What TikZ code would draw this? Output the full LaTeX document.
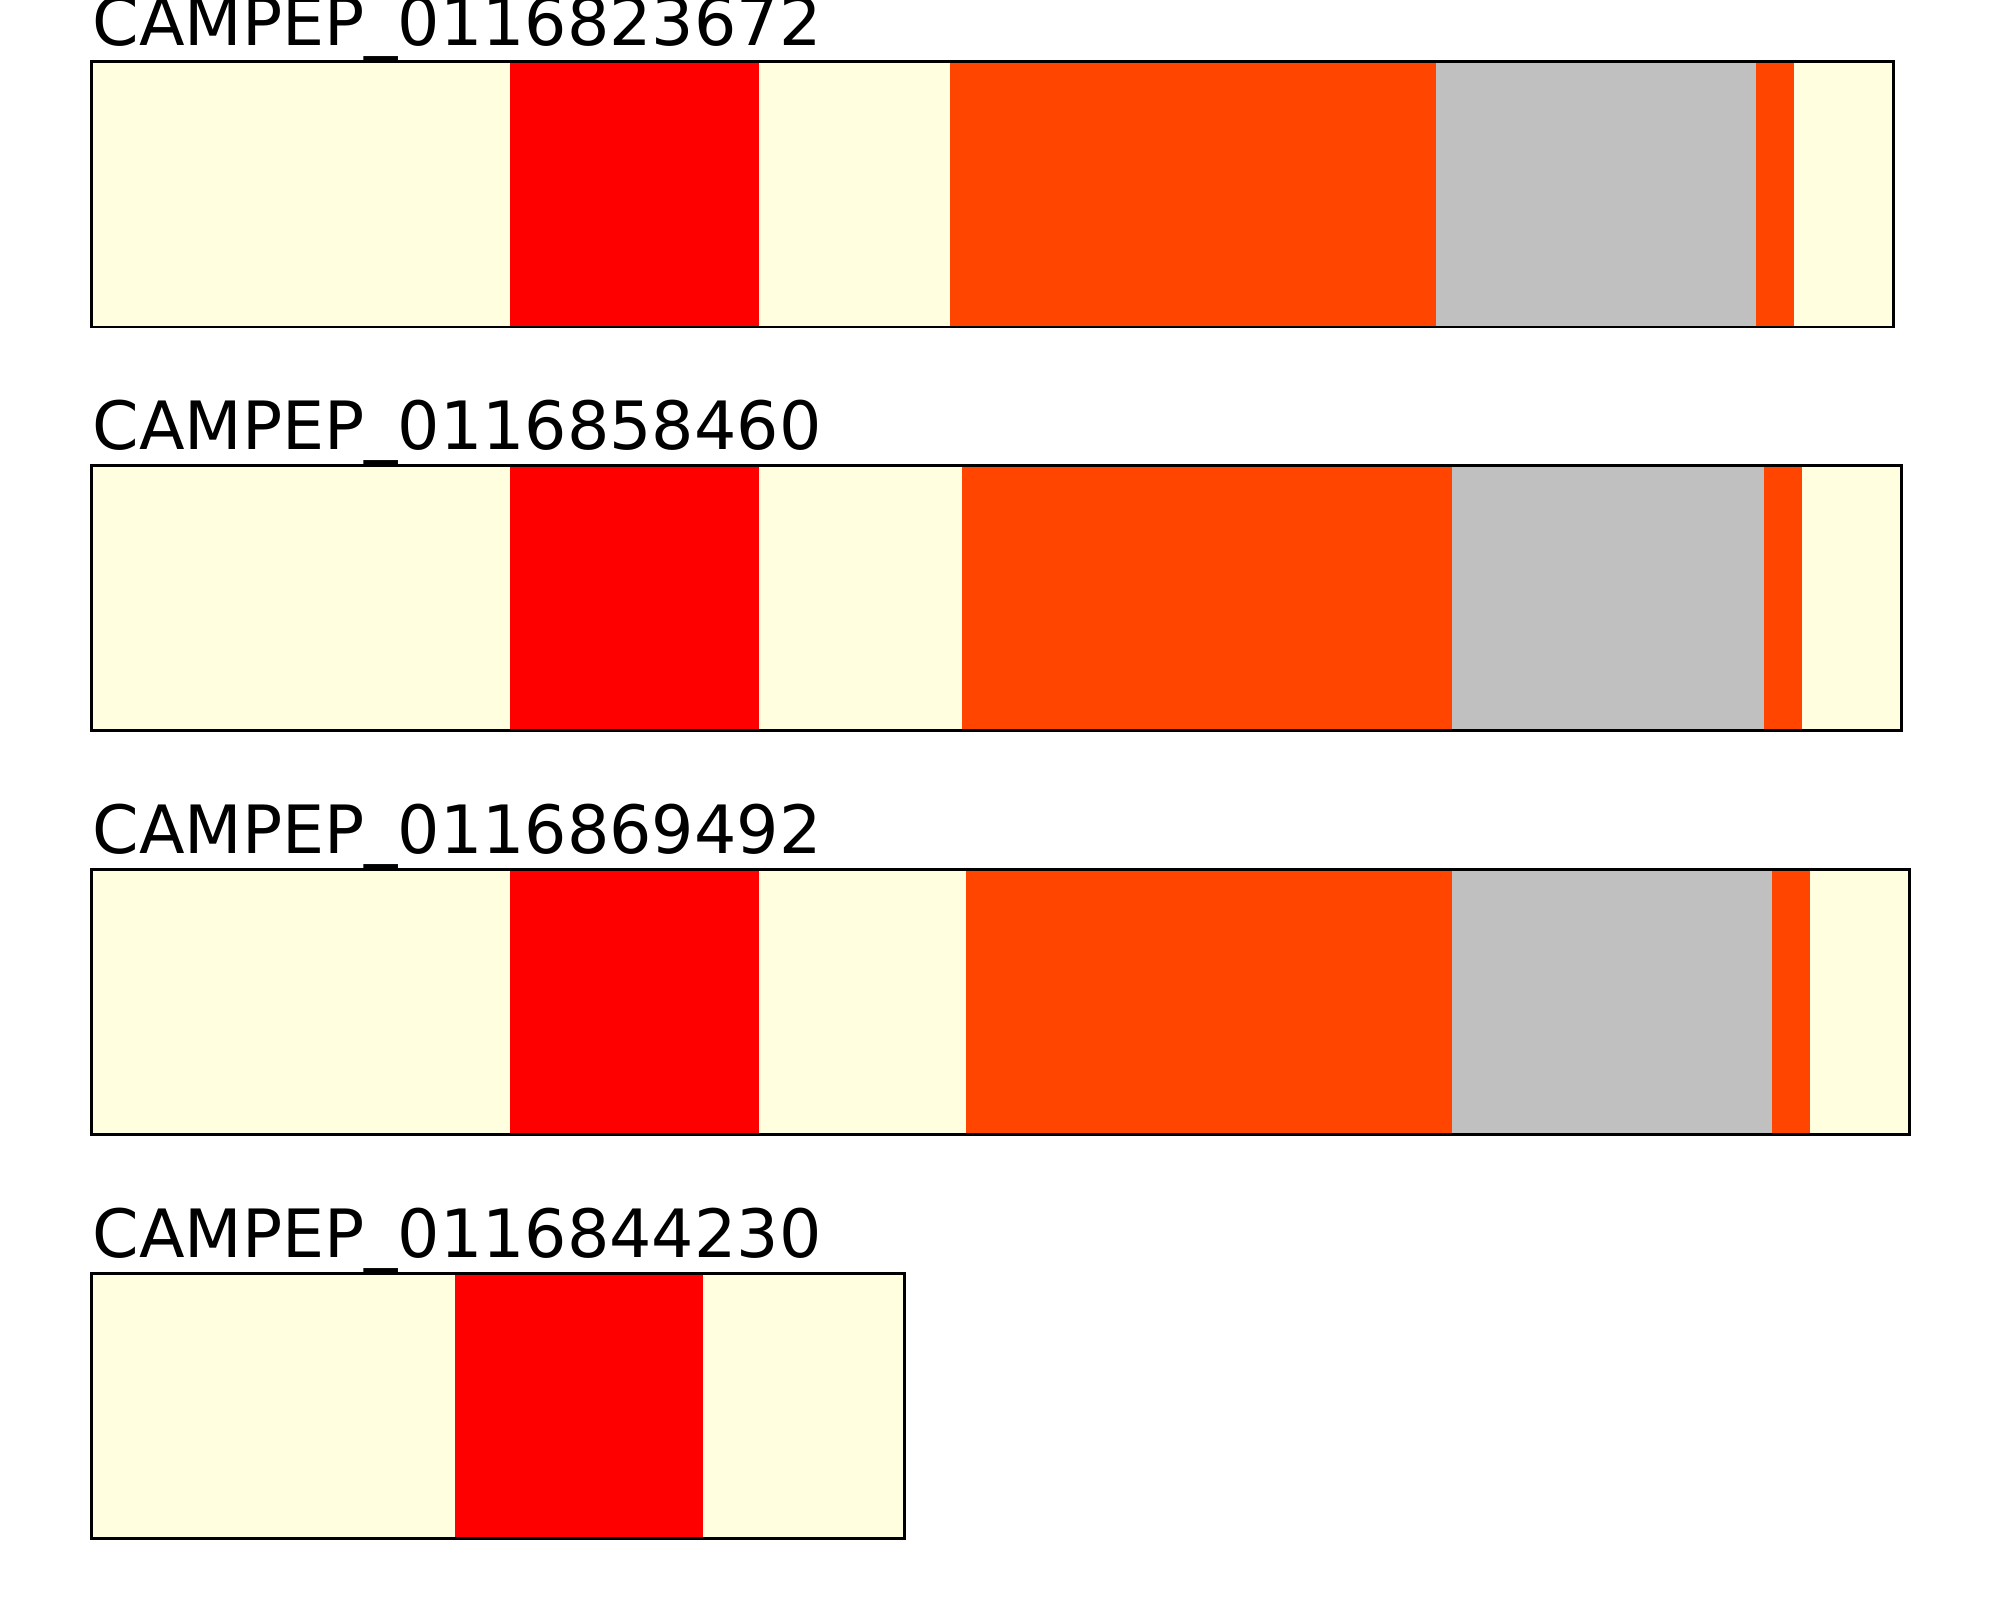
\documentclass[tikz,border=0pt]{standalone}
\usepackage{fontspec}
\setmainfont{DejaVu Sans}
\usetikzlibrary{positioning}
\definecolor{LightYellow}{HTML}{FFFFE0}
\definecolor{PureRed}{HTML}{FF0000}
\definecolor{OrangeRed}{HTML}{FF4500}
\definecolor{Silver}{HTML}{C0C0C0}
\tikzset{
  idlabel/.style={anchor=base west, inner sep=0pt, font=\fontsize{18.95}{22}\selectfont},
  barframe/.style={draw=black, line width=0.8pt},
  ylw/.style={fill=LightYellow},
  red/.style={fill=PureRed},
  org/.style={fill=OrangeRed},
  gry/.style={fill=Silver}
}

\begin{document}
\begin{tikzpicture}[x=0.12755mm, y=-0.12755mm]
\useasboundingbox (0,0) rectangle (1568,1254);

% bar 1
\foreach \xa/\xb/\st in {72/400/ylw, 400/595/red, 595/745/ylw, 745/1126/org, 1126/1377/gry, 1377/1406.6/org, 1406.6/1484.7/ylw}
  \path[\st] (\xa,48.3) rectangle (\xb,256.3);
\draw[barframe] (72,48.3) rectangle (1484.7,256.3);
\node[idlabel] (lab1) at (72,35.5) {CAMPEP\_0116823672};

% bar 2
\foreach \xa/\xb/\st in {72/400/ylw, 400/595/red, 595/754/ylw, 754/1138.4/org, 1138.4/1383/gry, 1383/1412.8/org, 1412.8/1491/ylw}
  \path[\st] (\xa,365) rectangle (\xb,573);
\draw[barframe] (72,365) rectangle (1491,573);
\node[idlabel] (lab2) at (72,352.3) {CAMPEP\_0116858460};

% bar 3
\foreach \xa/\xb/\st in {72/400/ylw, 400/595/red, 595/757/ylw, 757/1138.4/org, 1138.4/1389.3/gry, 1389.3/1419/org, 1419/1497/ylw}
  \path[\st] (\xa,681.6) rectangle (\xb,889.6);
\draw[barframe] (72,681.6) rectangle (1497,889.6);
\node[idlabel] (lab3) at (72,668.8) {CAMPEP\_0116869492};

% bar 4
\foreach \xa/\xb/\st in {72/356.5/ylw, 356.5/551.5/red, 551.5/709/ylw}
  \path[\st] (\xa,998.3) rectangle (\xb,1206.3);
\draw[barframe] (72,998.3) rectangle (709,1206.3);
\node[idlabel] (lab4) at (72,985.5) {CAMPEP\_0116844230};
\end{tikzpicture}
\end{document}
